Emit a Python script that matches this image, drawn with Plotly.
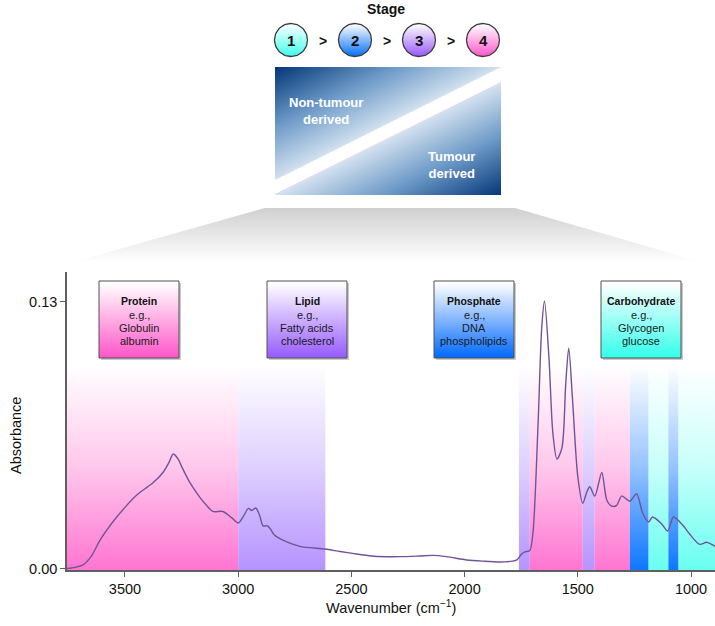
import numpy as np
import plotly.graph_objects as go

# spectrum (wavenumber cm-1, absorbance)
wavenumber = [3756, 3720, 3685, 3650, 3610, 3560, 3500, 3448, 3400, 3376, 3332, 3305,
              3287, 3265, 3249, 3213, 3170, 3140, 3112, 3068, 3029, 3000, 2975, 2955,
              2940, 2922, 2905, 2890, 2870, 2855, 2840, 2803, 2728, 2617, 2550, 2470,
              2400, 2287, 2200, 2142, 2080, 1990, 1920, 1844, 1790, 1769, 1750, 1734,
              1712, 1698, 1676, 1659, 1647, 1627, 1610, 1592, 1570, 1553, 1540, 1523,
              1500, 1478, 1460, 1447, 1425, 1394, 1372, 1350, 1328, 1306, 1270, 1240,
              1213, 1187, 1170, 1130, 1103, 1077, 1037, 1006, 962, 931, 904, 894]
absorbance = [0.0002, 0.0008, 0.002, 0.006, 0.014, 0.022, 0.030, 0.036, 0.040, 0.042, 0.047, 0.052,
              0.056, 0.0535, 0.0497, 0.042, 0.035, 0.031, 0.028, 0.028, 0.025, 0.0224, 0.026, 0.0295,
              0.0285, 0.0297, 0.026, 0.021, 0.021, 0.019, 0.0165, 0.014, 0.011, 0.0097, 0.0085, 0.0072,
              0.0062, 0.006, 0.0063, 0.0066, 0.006, 0.0044, 0.0038, 0.0034, 0.0038, 0.0044, 0.0070, 0.0083,
              0.009, 0.0175, 0.069, 0.118, 0.1305, 0.102, 0.066, 0.0535, 0.059, 0.0905, 0.1075, 0.082,
              0.045, 0.032, 0.0375, 0.040, 0.0355, 0.047, 0.0336, 0.0306, 0.031, 0.0355, 0.033, 0.0366,
              0.027, 0.0229, 0.0253, 0.022, 0.0185, 0.0253, 0.0214, 0.017, 0.012, 0.013, 0.0117, 0.011]

# shaded regions
band_start = [3756, 3000, 1760, 1712, 1478, 1425, 1270, 1187, 1100, 1055]
band_end = [3000, 2615, 1712, 1478, 1425, 1270, 1187, 1100, 1055, 894]
band_class = ['protein', 'lipid', 'lipid', 'protein', 'lipid', 'protein',
              'phosphate', 'carb', 'phosphate', 'carb']
band_top = 0.0993

band_colors = {'protein': 'rgb(255,118,210)', 'lipid': 'rgb(182,148,255)',
               'phosphate': 'rgb(15,120,255)', 'carb': 'rgb(105,255,240)'}
band_mid = {'protein': 'rgb(255,200,236)', 'lipid': 'rgb(222,208,255)',
            'phosphate': 'rgb(150,195,255)', 'carb': 'rgb(200,255,250)'}
box_colors = {'protein': 'rgb(255,85,200)', 'lipid': 'rgb(150,90,255)',
              'phosphate': 'rgb(0,105,255)', 'carb': 'rgb(50,255,235)'}

# label boxes
box_keys = ['protein', 'lipid', 'phosphate', 'carb']
box_titles = ['Protein', 'Lipid', 'Phosphate', 'Carbohydrate']
box_lines = [['e.g.,', 'Globulin', 'albumin'],
             ['e.g.,', 'Fatty acids', 'cholesterol'],
             ['e.g.,', 'DNA', 'phospholipids'],
             ['e.g.,', 'Glycogen', 'glucose']]
box_left = [99, 267, 434, 601]

# stage circles
stage_labels = ['1', '2', '3', '4']
stage_colors = ['rgb(60,255,235)', 'rgb(0,110,255)', 'rgb(150,85,255)', 'rgb(255,85,200)']
stage_cx = [291, 355, 419, 483]

FONT = 'Liberation Sans, Arial, sans-serif'
W, H = 715, 626

fig = go.Figure()

# bands with vertical fade
for x0, x1, k in zip(band_start, band_end, band_class):
    fig.add_trace(go.Scatter(
        x=[x0, x1, x1, x0, x0], y=[-0.0005, -0.0005, band_top, band_top, -0.0005],
        mode='lines', line=dict(width=0), fill='toself',
        fillgradient=dict(type='vertical', start=0, stop=band_top,
                          colorscale=[[0, band_colors[k]], [0.5, band_mid[k]],
                                      [1, 'rgb(255,255,255)']]),
        hoverinfo='skip', showlegend=False))

fig.add_trace(go.Scatter(
    x=wavenumber, y=absorbance, mode='lines',
    line=dict(color='rgb(112,84,150)', width=1.4, shape='spline', smoothing=0.8),
    showlegend=False))

# ---------- decoration on a pixel overlay axis (x2/y2) ----------
def poly(xs, ys, y0, y1, c0, c1, lc=None, lw=0):
    fig.add_trace(go.Scatter(
        x=xs, y=ys, xaxis='x2', yaxis='y2', mode='lines',
        line=dict(width=lw, color=lc or 'rgba(0,0,0,0)'), fill='toself',
        fillgradient=dict(type='vertical', start=y0, stop=y1, colorscale=[[0, c0], [1, c1]]),
        hoverinfo='skip', showlegend=False))

# grey funnel
poly([265, 515, 715, 715, 45, 265], [208, 208, 266, 270, 270, 208], 208, 262,
     'rgb(208,208,208)', 'rgba(255,255,255,1)')

# diagonal gradient panel
px0, px1, py0, py1 = 275, 501, 67, 195
gx = np.arange(px0 + 1, px1, 2.0)
gy = np.arange(py0 + 1, py1, 2.0)
GX, GY = np.meshgrid(gx, gy)
centre = 187 - (GX - px0) * (112.5 / (px1 - px0))
gz = np.abs(GY - centre) / 120.0
fig.add_trace(go.Heatmap(
    x=gx, y=gy, z=gz, xaxis='x2', yaxis='y2', zmin=0, zmax=1, zsmooth='best',
    colorscale=[[0, 'rgb(226,235,245)'], [0.5, 'rgb(110,155,200)'], [1, 'rgb(5,55,120)']],
    showscale=False, hoverinfo='skip'))

# boxes
for k, bx in zip(box_keys, box_left):
    poly([bx + 2, bx + 82, bx + 82, bx + 2, bx + 2], [283, 283, 360, 360, 283], 283, 360,
         'rgba(150,150,150,0.5)', 'rgba(150,150,150,0.5)')
    poly([bx, bx + 80, bx + 80, bx, bx], [281, 281, 358, 358, 281], 283, 358,
         'rgb(255,255,255)', box_colors[k], lc='rgb(80,80,80)', lw=1)

# stage circles
ang = np.linspace(0, 2 * np.pi, 80)
for c, cx in zip(stage_colors, stage_cx):
    poly(cx + 16.5 * np.cos(ang), 40 + 16.5 * np.sin(ang), 24, 57,
         'rgb(255,255,255)', c, lc='rgb(60,60,60)', lw=1.3)

annotations = []
def txt(x, y, s, size, color='#111', bold=False, angle=0):
    annotations.append(dict(x=x, y=y, xref='x2', yref='y2', text=f'<b>{s}</b>' if bold else s,
                            showarrow=False, textangle=angle,
                            font=dict(size=size, color=color, family=FONT),
                            xanchor='center', yanchor='middle'))

txt(386, 9, 'Stage', 14, bold=True)
for s, cx in zip(stage_labels, stage_cx):
    txt(cx, 40, s, 15, bold=True)
for cx in [323, 387, 451]:
    txt(cx, 41, '>', 14, bold=True)
txt(326, 111, 'Non-tumour<br>derived', 13, color='white', bold=True)
txt(451, 165, 'Tumour<br>derived', 13, color='white', bold=True)

for t, lines, bx in zip(box_titles, box_lines, box_left):
    txt(bx + 40, 301, t, 10.5, bold=True)
    for i, s in enumerate(lines):
        txt(bx + 40, 315 + 13 * i, s, 11, color='#1a1a1a')

txt(16, 436, 'Absorbance', 14.5, angle=-90)
txt(391, 607, 'Wavenumber (cm<sup>−1</sup>)', 14.5)

# white diagonal stripe over the panel
shapes = [dict(type='path', xref='x2', yref='y2', layer='above',
               path=f'M {px0} 180 L {px1} 67 L {px1} 82 L {px0} 194 Z',
               fillcolor='white', line=dict(width=0))]

axis_style = dict(showgrid=False, zeroline=False, showline=True, linecolor='rgb(95,95,95)',
                  linewidth=1.5, ticks='outside', ticklen=5, tickcolor='rgb(95,95,95)',
                  tickfont=dict(size=14.5, color='#111', family=FONT), automargin=False)

fig.update_layout(
    width=W, height=H, margin=dict(l=0, r=0, t=0, b=0),
    paper_bgcolor='white', plot_bgcolor='rgba(0,0,0,0)',
    font=dict(family=FONT),
    xaxis=dict(domain=[67 / W, 1], range=[3756, 894], tickvals=[3500, 3000, 2500, 2000, 1500, 1000],
               **axis_style),
    yaxis=dict(domain=[56 / H, (H - 272) / H], range=[-0.0005, 0.1446], tickvals=[0, 0.13],
               ticktext=['0.00', '0.13'], **axis_style),
    xaxis2=dict(domain=[0, 1], range=[0, W], visible=False, anchor='y2'),
    yaxis2=dict(domain=[0, 1], range=[H, 0], visible=False, anchor='x2'),
    annotations=annotations, shapes=shapes, showlegend=False)

# page body has an 8px default margin; drop it so the figure sits at the window origin
fig.write_html('out.html', config={'displayModeBar': False},
               post_script="document.body.style.margin='0';")
